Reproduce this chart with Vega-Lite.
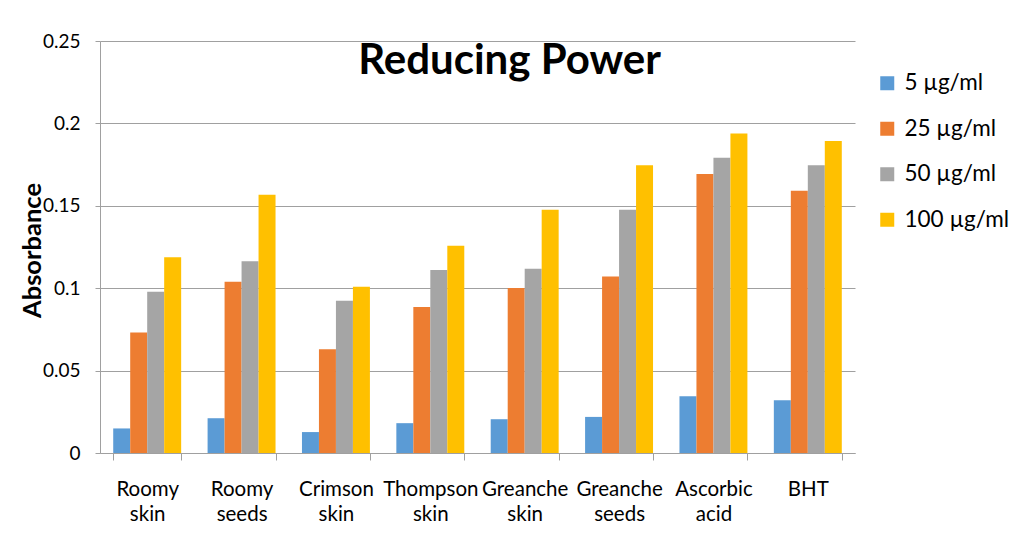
{
  "$schema": "https://vega.github.io/schema/vega-lite/v6.json",
  "autosize": {"type": "none"},
  "padding": {"left": 100, "top": 41, "right": 158, "bottom": 91},
  "width": 755,
  "height": 412,
  "background": "white",
  "config": {
    "font": "Lato",
    "view": {"stroke": null}
  },
  "title": {
    "text": "Reducing Power",
    "font": "Lato",
    "fontSize": 42,
    "fontWeight": "bold",
    "color": "#000000",
    "anchor": "middle",
    "frame": "group",
    "orient": "top",
    "baseline": "alphabetic",
    "dx": 32,
    "dy": 53,
    "offset": -31
  },
  "data": {
    "values": [
      {"sample": "Roomy skin", "conc": "5 µg/ml", "value": 0.0149},
      {"sample": "Roomy skin", "conc": "25 µg/ml", "value": 0.0731},
      {"sample": "Roomy skin", "conc": "50 µg/ml", "value": 0.0979},
      {"sample": "Roomy skin", "conc": "100 µg/ml", "value": 0.1188},
      {"sample": "Roomy seeds", "conc": "5 µg/ml", "value": 0.0211},
      {"sample": "Roomy seeds", "conc": "25 µg/ml", "value": 0.1039},
      {"sample": "Roomy seeds", "conc": "50 µg/ml", "value": 0.1164},
      {"sample": "Roomy seeds", "conc": "100 µg/ml", "value": 0.1567},
      {"sample": "Crimson skin", "conc": "5 µg/ml", "value": 0.0127},
      {"sample": "Crimson skin", "conc": "25 µg/ml", "value": 0.063},
      {"sample": "Crimson skin", "conc": "50 µg/ml", "value": 0.0924},
      {"sample": "Crimson skin", "conc": "100 µg/ml", "value": 0.1009},
      {"sample": "Thompson skin", "conc": "5 µg/ml", "value": 0.0181},
      {"sample": "Thompson skin", "conc": "25 µg/ml", "value": 0.0886},
      {"sample": "Thompson skin", "conc": "50 µg/ml", "value": 0.111},
      {"sample": "Thompson skin", "conc": "100 µg/ml", "value": 0.1257},
      {"sample": "Greanche skin", "conc": "5 µg/ml", "value": 0.0205},
      {"sample": "Greanche skin", "conc": "25 µg/ml", "value": 0.1001},
      {"sample": "Greanche skin", "conc": "50 µg/ml", "value": 0.1118},
      {"sample": "Greanche skin", "conc": "100 µg/ml", "value": 0.1476},
      {"sample": "Greanche seeds", "conc": "5 µg/ml", "value": 0.0219},
      {"sample": "Greanche seeds", "conc": "25 µg/ml", "value": 0.1071},
      {"sample": "Greanche seeds", "conc": "50 µg/ml", "value": 0.1476},
      {"sample": "Greanche seeds", "conc": "100 µg/ml", "value": 0.1746},
      {"sample": "Ascorbic acid", "conc": "5 µg/ml", "value": 0.0344},
      {"sample": "Ascorbic acid", "conc": "25 µg/ml", "value": 0.1693},
      {"sample": "Ascorbic acid", "conc": "50 µg/ml", "value": 0.1792},
      {"sample": "Ascorbic acid", "conc": "100 µg/ml", "value": 0.1939},
      {"sample": "BHT", "conc": "5 µg/ml", "value": 0.032},
      {"sample": "BHT", "conc": "25 µg/ml", "value": 0.1591},
      {"sample": "BHT", "conc": "50 µg/ml", "value": 0.1746},
      {"sample": "BHT", "conc": "100 µg/ml", "value": 0.1893}
    ]
  },
  "mark": {"type": "bar"},
  "encoding": {
    "x": {
      "field": "sample",
      "type": "nominal",
      "sort": null,
      "scale": {"paddingInner": 0.28, "paddingOuter": 0.14},
      "axis": {
        "title": null,
        "labelAngle": 0,
        "labelExpr": "split(datum.label, ' ')",
        "labelFont": "Lato",
        "labelFontSize": 20.5,
        "labelLineHeight": 25,
        "labelColor": "#000000",
        "labelPadding": 19,
        "labelBaseline": "top",
        "tickBand": "extent",
        "tickSize": 7,
        "tickColor": "#A0A0A0",
        "domainColor": "#A0A0A0",
        "grid": false
      }
    },
    "xOffset": {
      "field": "conc",
      "type": "nominal",
      "sort": ["5 µg/ml", "25 µg/ml", "50 µg/ml", "100 µg/ml"],
      "scale": {"paddingInner": 0, "paddingOuter": 0}
    },
    "y": {
      "field": "value",
      "type": "quantitative",
      "scale": {"domain": [0, 0.25], "nice": false},
      "axis": {
        "values": [0, 0.05, 0.1, 0.15, 0.2, 0.25],
        "format": ".2~f",
        "title": "Absorbance",
        "titleFont": "Lato",
        "titleFontSize": 25.5,
        "titleFontWeight": "bold",
        "titleColor": "#000000",
        "titleX": -68,
        "titleY": 209,
        "titleAngle": 270,
        "titleAlign": "center",
        "titleBaseline": "middle",
        "labelFont": "Lato",
        "labelFontSize": 19,
        "labelColor": "#000000",
        "labelPadding": 15,
        "tickSize": 5,
        "tickColor": "#A0A0A0",
        "domainColor": "#A0A0A0",
        "grid": true,
        "gridColor": "#A0A0A0",
        "gridWidth": 1
      }
    },
    "color": {
      "field": "conc",
      "type": "nominal",
      "sort": ["5 µg/ml", "25 µg/ml", "50 µg/ml", "100 µg/ml"],
      "scale": {
        "domain": ["5 µg/ml", "25 µg/ml", "50 µg/ml", "100 µg/ml"],
        "range": ["#5B9BD5", "#ED7D31", "#A5A5A5", "#FFC000"]
      },
      "legend": {
        "title": null,
        "orient": "none",
        "legendX": 776,
        "legendY": 31,
        "symbolType": "square",
        "symbolSize": 196,
        "symbolStrokeWidth": 0,
        "labelFont": "Lato",
        "labelFontSize": 22.5,
        "labelColor": "#000000",
        "labelOffset": 6,
        "rowPadding": 22.5
      }
    }
  }
}
